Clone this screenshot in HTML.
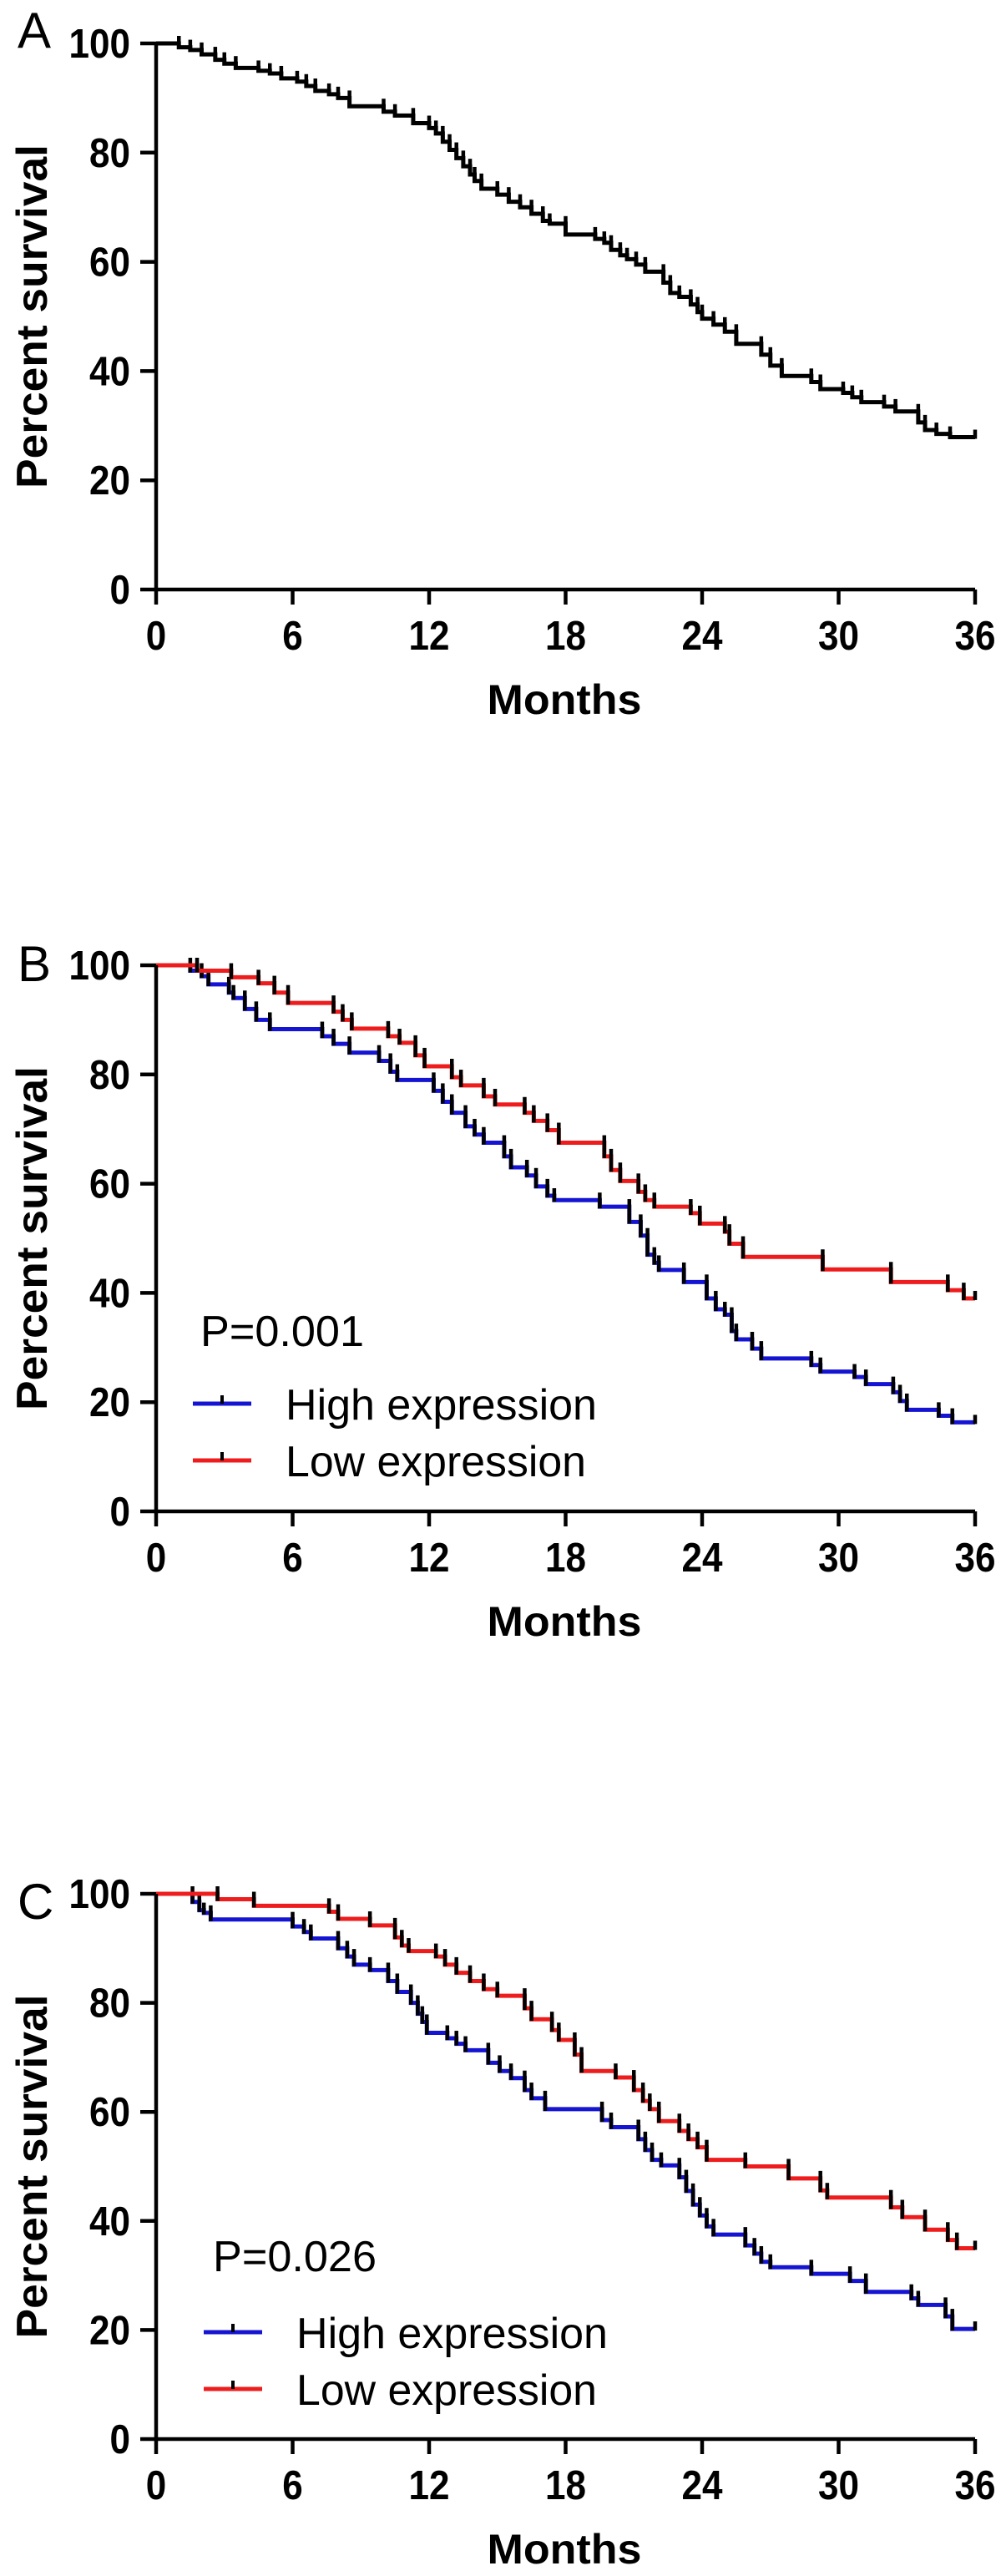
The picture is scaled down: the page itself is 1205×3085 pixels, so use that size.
<!DOCTYPE html>
<html><head><meta charset="utf-8"><style>
html,body{margin:0;padding:0;background:#fff;}
svg{display:block;}
text{font-family:"Liberation Sans",Arial,sans-serif;}
</style></head><body>
<svg id="fig" width="1205" height="3085" viewBox="0 0 1205 3085" xmlns="http://www.w3.org/2000/svg"></svg>
<script>
// ---- data ----
const xTicks = [0, 6, 12, 18, 24, 30, 36];
const yTicks = [0, 20, 40, 60, 80, 100];

const aTimes = [0,1.0,1.5,2.0,2.6,3.0,3.5,4.5,5.0,5.5,6.2,6.6,7.0,7.6,8.0,8.5,10.0,10.5,11.3,12.0,12.3,12.6,12.9,13.2,13.5,13.8,14.0,14.3,15.0,15.5,16.0,16.5,17.0,17.3,18.0,19.3,19.7,20.0,20.4,20.7,21.1,21.5,21.8,22.3,22.6,23.0,23.5,23.8,24.0,24.5,25.0,25.5,26.6,27.0,27.5,28.8,29.2,30.2,30.6,31.0,32.0,32.5,33.5,33.8,34.3,34.9,36.0];
const aSurv = [100,99.3,98.8,98.0,97.0,96.3,95.5,95.0,94.5,93.6,93.0,92.2,91.3,90.7,90.0,88.5,87.5,86.8,85.4,84.5,83.5,82.0,80.5,79.0,77.5,76.0,74.8,73.4,72.3,71.0,70.0,68.8,67.5,67.0,65.0,64.2,63.5,62.2,61.2,60.5,59.5,58.2,58.2,56.2,54.3,53.6,52.2,50.8,49.6,48.5,47.2,45.0,43.0,41.0,39.1,38.0,36.7,36.0,35.2,34.3,33.5,32.6,30.6,29.2,28.5,27.9,27.9];

const bHighTimes = [0,1.3,1.5,2.0,2.3,3.2,3.4,3.9,4.4,5.0,7.3,7.8,8.5,9.8,10.3,10.6,12.2,12.6,13.0,13.6,14.0,14.4,15.3,15.6,16.3,16.7,17.2,17.5,19.5,20.8,21.3,21.6,21.9,22.1,23.2,24.2,24.6,25.0,25.3,25.5,26.2,26.6,28.8,29.2,30.7,31.2,32.4,32.7,33.0,34.4,35.0,36.0];
const bHighSurv = [100,100,99,98,96.5,95,94,92,90,88.3,87,85.6,84,82.5,80.5,79,77,75,73,70.5,69,67.5,65,63,61.5,59.5,57.8,57,55.8,53,50.5,47,45.5,44.2,42,39,37,36,33,31.5,29.8,28,26.8,25.6,24.6,23.3,21.8,20.2,18.6,17.5,16.3,16.3];
const bLowTimes = [0,1.3,1.8,3.3,4.5,5.2,5.8,7.8,8.2,8.6,10.2,10.7,11.4,11.8,13.0,13.4,14.4,14.9,16.2,16.6,17.2,17.7,19.7,20.0,20.4,21.2,21.5,21.9,23.5,23.9,25.0,25.2,25.8,29.3,32.3,34.8,35.5,36.0];
const bLowSurv = [100,100,99,97.8,96.7,95,93.1,91.5,90,88.4,87,85.8,83.5,81.5,79.5,78,76,74.5,73,71.5,69.8,67.5,65,62.5,60.5,58.5,57,55.8,54.6,52.7,51.2,49,46.6,44.3,42,40.5,39,39];

const cHighTimes = [0,1.4,1.6,1.9,2.1,2.4,6.0,6.5,6.8,8.0,8.4,8.7,9.4,10.2,10.6,11.2,11.5,11.7,11.9,12.8,13.2,13.6,14.6,15.1,15.6,16.2,16.5,17.1,19.6,20.0,21.2,21.5,21.8,22.2,23.0,23.3,23.6,23.9,24.2,24.5,25.9,26.3,26.6,27.0,28.8,30.5,31.2,33.2,33.5,34.7,35.0,36.0];
const cHighSurv = [100,100,98.5,97,96.5,95.3,94,93,91.8,90,88.5,87,86,84,82,80,78,76.5,74.5,73.5,72.5,71.3,69,67.5,66.2,64,62.5,60.5,58.5,57.2,55,53,51.2,50.2,48,45.5,43,41,39,37.5,35.5,34,32.5,31.5,30.3,29,27,25.8,24.6,22.5,20.2,20.2];
const cLowTimes = [0,1.4,2.7,4.3,7.6,8.0,9.4,10.5,10.8,11.1,12.3,12.7,13.2,13.8,14.4,15.0,16.2,16.5,17.4,17.7,18.4,18.7,20.2,21.0,21.4,21.7,22.1,23.0,23.4,23.8,24.2,25.9,27.8,29.2,29.5,32.3,32.8,33.8,34.8,35.2,36.0];
const cLowSurv = [100,100,99,97.8,96.7,95.4,94.2,92,90.5,89.5,88.5,87,85.5,84,82.5,81.3,79,77,75,73.2,70.5,67.5,66.3,64,62,60.5,58.3,56.5,55,53.5,51.2,50,47.8,45.6,44.3,42.5,40.7,38.4,36.5,35,35];

const NS = "http://www.w3.org/2000/svg";
const svg = document.getElementById('fig');
function mk(tag, attrs, parent){
  const e = document.createElementNS(NS, tag);
  for (const k in attrs) e.setAttribute(k, attrs[k]);
  (parent || svg).appendChild(e);
  return e;
}

const X0 = 187, X1 = 1168;
function xScale(t){ return X0 + (X1 - X0) * t / 36; }

function drawPanel(p){
  const g = mk('g', {});
  
  
  const yS = v => p.y0 + (p.y100 - p.y0) * v / 100;

  const L = mk('text', {x: 21, y: p.letterY, 'font-size': 60}, g);
  L.textContent = p.id;
  
  

  p.series.forEach(s => {
    let d = 'M' + xScale(s.t[0]) + ' ' + yS(s.s[0]);
    const verts = [];
    for (let i = 1; i < s.t.length; i++){
      const x = xScale(s.t[i]);
      d += ' L' + x + ' ' + yS(s.s[i-1]) + ' L' + x + ' ' + yS(s.s[i]);
      if (s.s[i] !== s.s[i-1] || i === s.t.length - 1) verts.push([x, yS(s.s[i-1]), yS(s.s[i])]);
    }
    const path = mk('path', {d: d, fill: 'none', stroke: s.color, 'stroke-width': s.w, 'stroke-linejoin': 'miter'}, g);
    
    
    verts.forEach(v => {
      const top = Math.min(v[1], v[2]) - 9, bot = Math.max(v[1], v[2]) + 2;
      const tk = mk('line', {x1: v[0], x2: v[0], y1: top, y2: bot, stroke: '#000', 'stroke-width': 4.5}, g);
      
      
    });
  });

  const ax = mk('path', {d: 'M' + X0 + ' ' + p.y100 + ' L' + X0 + ' ' + p.y0 + ' L' + X1 + ' ' + p.y0, fill: 'none', stroke: '#000', 'stroke-width': 4.5}, g);
  
  
  yTicks.forEach(v => {
    const y = yS(v);
    const t = mk('line', {x1: 168, x2: X0, y1: y, y2: y, stroke: '#000', 'stroke-width': 4.5}, g);
    
    
    const lb = mk('text', {x: 156, y: y + 17, 'font-size': 49, 'font-weight': 'bold', 'text-anchor': 'end', textLength: String(v).length * 24.5, lengthAdjust: 'spacingAndGlyphs'}, g);
    lb.textContent = v;
    
    
  });
  xTicks.forEach(v => {
    const x = xScale(v);
    const t = mk('line', {x1: x, x2: x, y1: p.y0, y2: p.y0 + 18, stroke: '#000', 'stroke-width': 4.5}, g);
    
    
    const lb = mk('text', {x: x, y: p.y0 + 72, 'font-size': 49, 'font-weight': 'bold', 'text-anchor': 'middle', textLength: String(v).length * 24.5, lengthAdjust: 'spacingAndGlyphs'}, g);
    lb.textContent = v;
    
    
  });
  const xt = mk('text', {x: 676, y: p.y0 + 149, 'font-size': 50, 'font-weight': 'bold', 'text-anchor': 'middle', textLength: 185, lengthAdjust: 'spacingAndGlyphs'}, g);
  xt.textContent = 'Months';
  
  
  const cy = (p.y0 + p.y100) / 2;
  const yt = mk('text', {x: 0, y: 0, 'font-size': 52, 'font-weight': 'bold', 'text-anchor': 'middle', textLength: 412, lengthAdjust: 'spacingAndGlyphs', transform: 'translate(56,' + cy + ') rotate(-90)'}, g);
  yt.textContent = 'Percent survival';
  
  

  if (p.legend){
    const lg = p.legend;
    const pt = mk('text', {x: lg.px, y: lg.pY, 'font-size': 52, textLength: 196, lengthAdjust: 'spacingAndGlyphs'}, g);
    pt.textContent = lg.pText;
    
    
    lg.items.forEach(it => {
      const ln = mk('line', {x1: lg.lx, x2: lg.lx + 70, y1: it.y, y2: it.y, stroke: it.color, 'stroke-width': 5}, g);
      
      
      const tk = mk('line', {x1: lg.lx + 35, x2: lg.lx + 35, y1: it.y - 10, y2: it.y, stroke: '#000', 'stroke-width': 4}, g);
      
      
      const tx = mk('text', {x: lg.tx, y: it.y + 19, 'font-size': 52, textLength: it.len, lengthAdjust: 'spacingAndGlyphs'}, g);
      tx.textContent = it.label;
      
      
    });
  }
}

drawPanel({id: 'A', y100: 52, y0: 706, letterY: 57,
  series: [{t: aTimes, s: aSurv, color: '#000', w: 5, name: 'overall-survival-curve'}]});
drawPanel({id: 'B', y100: 1156, y0: 1810, letterY: 1175,
  series: [{t: bHighTimes, s: bHighSurv, color: '#1414d2', w: 5, name: 'high-expression-curve'},
           {t: bLowTimes, s: bLowSurv, color: '#ee1c1c', w: 5, name: 'low-expression-curve'}],
  legend: {px: 240, pY: 1612, pText: 'P=0.001', lx: 231, tx: 342,
    items: [{y: 1681, color: '#1414d2', label: 'High expression', len: 373},
            {y: 1749, color: '#ee1c1c', label: 'Low expression', len: 360}]}});
drawPanel({id: 'C', y100: 2268, y0: 2921, letterY: 2298,
  series: [{t: cHighTimes, s: cHighSurv, color: '#1414d2', w: 5, name: 'high-expression-curve'},
           {t: cLowTimes, s: cLowSurv, color: '#ee1c1c', w: 5, name: 'low-expression-curve'}],
  legend: {px: 255, pY: 2720, pText: 'P=0.026', lx: 244, tx: 355,
    items: [{y: 2793, color: '#1414d2', label: 'High expression', len: 373},
            {y: 2861, color: '#ee1c1c', label: 'Low expression', len: 360}]}});
</script>
</body></html>
